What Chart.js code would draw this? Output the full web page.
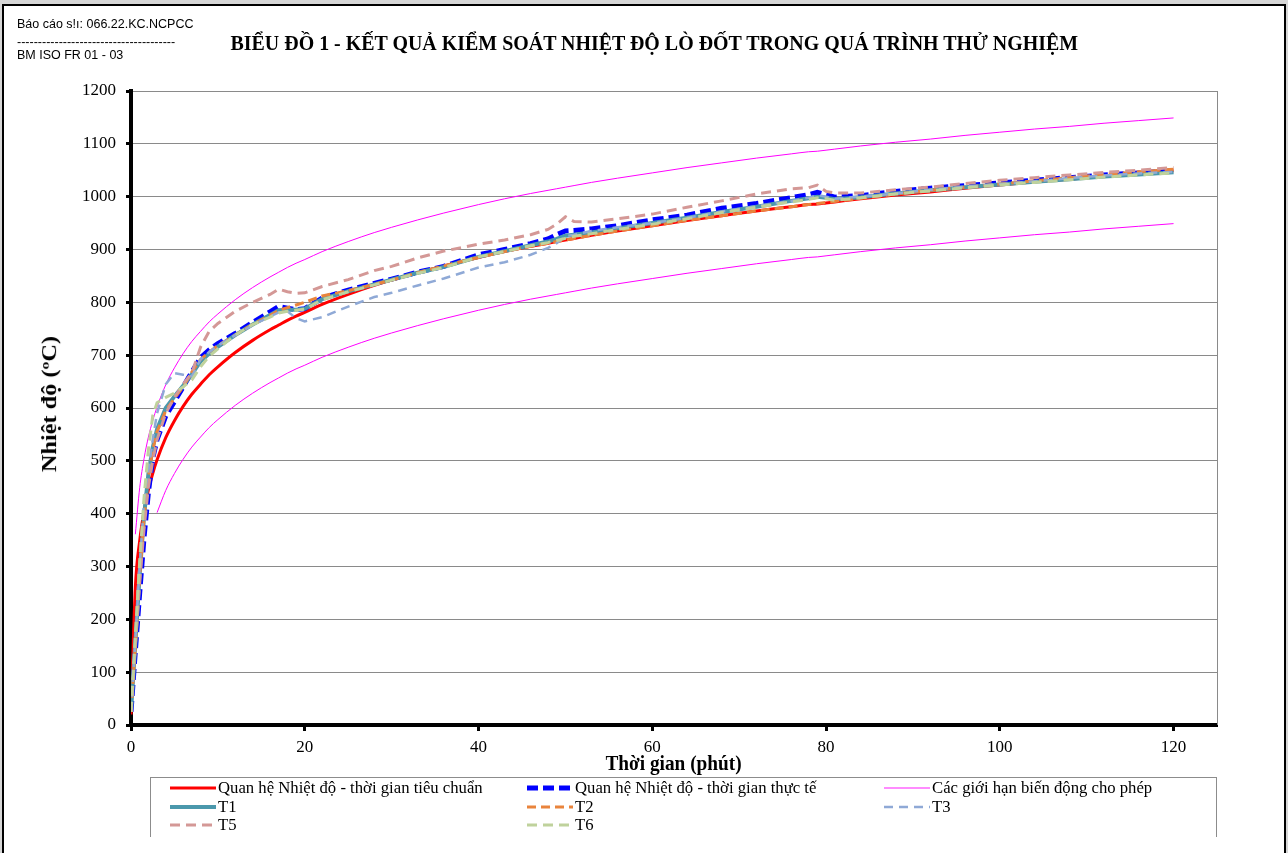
<!DOCTYPE html>
<html lang="vi">
<head>
<meta charset="utf-8">
<title>Biểu đồ 1 - Kết quả kiểm soát nhiệt độ lò đốt</title>
<script src="https://cdn.jsdelivr.net/npm/chart.js@4.4.1/dist/chart.umd.min.js"></script>
<style>
  html, body { margin: 0; padding: 0; }
  body { position: relative; width: 1288px; height: 853px; overflow: hidden; background: #d6d6d6; }
  #khung { position: absolute; left: 2px; top: 4px; width: 1284px; height: 900px; box-sizing: border-box; border: 2px solid #000; background: #fff; }
  #bieuDo { position: absolute; left: 0; top: 0; }
  .chu { position: absolute; white-space: nowrap; color: #000; }
  .sans { font-family: 'Liberation Sans', Arial, sans-serif; font-size: 12.5px; line-height: 15px; left: 17px; }
  .dam { font-family: 'Liberation Serif', 'Times New Roman', serif; font-weight: bold; font-size: 20px; line-height: 24px; transform-origin: 50% 50%; }
  #tieuDe { font-size: 21px; }
  #chuGiai { position: absolute; left: 150px; top: 777px; width: 1067px; height: 60px; box-sizing: border-box; border: 1px solid #8c8c8c; border-bottom: none; }
  .muc { position: absolute; height: 18px; display: flex; align-items: center; font-family: 'Liberation Serif', 'Times New Roman', serif; font-size: 16px; white-space: nowrap; color: #000; }
  .muc svg { display: block; }
  .muc span { display: inline-block; transform-origin: 0 50%; margin-left: 2px; }
</style>
</head>
<body>
<div id="khung"></div>
<canvas id="bieuDo" width="1288" height="853"></canvas>
<div class="chu sans" style="top:17px">Báo cáo s!ı: 066.22.KC.NCPCC</div>
<div class="chu sans" style="top:35px">--------------------------------------</div>
<div class="chu sans" style="top:48px">BM ISO FR 01 - 03</div>
<div class="chu dam" id="tieuDe">BIỂU ĐỒ 1 - KẾT QUẢ KIỂM SOÁT NHIỆT ĐỘ LÒ ĐỐT TRONG QUÁ TRÌNH THỬ NGHIỆM</div>
<div class="chu dam" id="tenTrucY">Nhiệt độ (ºC)</div>
<div class="chu dam" id="tenTrucX">Thời gian (phút)</div>
<div id="chuGiai"></div>

<script>
// ---- Số liệu (phút, °C) ----
const thoiGian = [0, 0.5, 1, 1.5, 2, 2.5, 3, 4, 5, 6, 7, 8, 9, 10, 12, 14, 16, 17, 18, 19,
  20, 22, 25, 28, 30, 33, 36, 40, 43, 46, 48, 49, 50, 51, 53, 56, 60, 64, 68, 72,
  76, 78, 79, 80, 81, 84, 88, 92, 96, 100, 104, 108, 112, 116, 120];

const tieuChuan = [20, 261, 349, 404, 445, 476, 502, 544, 576, 603, 626, 645, 663, 678, 705, 728, 748, 757, 766, 774,
  781, 796, 815, 832, 842, 856, 869, 885, 896, 906, 912, 915, 918, 921, 927, 935, 945, 955, 964, 973,
  981, 985, 986, 988, 990, 996, 1003, 1009, 1016, 1022, 1028, 1033, 1039, 1044, 1049];

// giới hạn cho phép: tiêu chuẩn ± 100 °C
const gioiHanTren = [null, 361, 449, 504, 545, 576, 602, 644, 676, 703, 726, 745, 763, 778, 805, 828, 848, 857, 866, 874,
  881, 896, 915, 932, 942, 956, 969, 985, 996, 1006, 1012, 1015, 1018, 1021, 1027, 1035, 1045, 1055, 1064, 1073,
  1081, 1085, 1086, 1088, 1090, 1096, 1103, 1109, 1116, 1122, 1128, 1133, 1139, 1144, 1149];

const gioiHanDuoi = [null, null, null, null, null, null, 402, 444, 476, 503, 526, 545, 563, 578, 605, 628, 648, 657, 666, 674,
  681, 696, 715, 732, 742, 756, 769, 785, 796, 806, 812, 815, 818, 821, 827, 835, 845, 855, 864, 873,
  881, 885, 886, 888, 890, 896, 903, 909, 916, 922, 928, 933, 939, 944, 949];

const thucTe = [25, 140, 250, 355, 440, 505, 540, 585, 612, 640, 668, 695, 710, 722, 741, 762, 782, 792, 789, 786,
  788, 808, 823, 836, 844, 857, 868, 890, 900, 911, 920, 928, 935, 936, 939, 945, 956, 965, 978, 987,
  998, 1004, 1008, 1004, 999, 1002, 1010, 1016, 1021, 1026, 1031, 1036, 1041, 1045, 1049];

const T1 = [25, 155, 285, 395, 475, 525, 560, 600, 622, 642, 664, 688, 703, 716, 738, 758, 776, 785, 786, 786,
  788, 806, 821, 834, 843, 856, 867, 886, 897, 908, 915, 920, 926, 928, 932, 940, 950, 960, 971, 981,
  992, 997, 1000, 998, 995, 999, 1006, 1012, 1018, 1023, 1028, 1033, 1038, 1042, 1046];

const T2 = [25, 150, 280, 390, 470, 520, 555, 595, 618, 640, 668, 692, 706, 718, 738, 758, 775, 785, 790, 795,
  800, 812, 822, 834, 842, 856, 869, 885, 896, 906, 912, 915, 918, 921, 927, 935, 945, 955, 964, 973,
  981, 985, 987, 989, 991, 997, 1005, 1012, 1018, 1024, 1030, 1036, 1042, 1047, 1052];

const T3 = [25, 160, 300, 420, 480, 540, 590, 645, 666, 663, 660, 692, 706, 718, 738, 757, 773, 781, 783, 770,
  764, 772, 792, 810, 818, 832, 845, 866, 876, 890, 903, 912, 925, 928, 935, 942, 950, 960, 972, 982,
  992, 998, 1003, 1000, 996, 1000, 1006, 1013, 1019, 1024, 1029, 1035, 1040, 1044, 1047];

const T5 = [25, 150, 270, 370, 450, 500, 540, 590, 620, 645, 666, 715, 745, 760, 783, 800, 815, 825, 820, 817,
  818, 830, 843, 860, 868, 884, 897, 910, 918, 928, 938, 948, 962, 953, 952, 958, 967, 980, 992, 1005,
  1015, 1017, 1022, 1010, 1007, 1007, 1013, 1018, 1025, 1031, 1036, 1041, 1046, 1050, 1055];

const T6 = [25, 170, 310, 430, 520, 585, 610, 620, 628, 640, 653, 678, 698, 712, 738, 758, 772, 780, 783, 785,
  787, 805, 820, 833, 842, 855, 866, 886, 896, 907, 913, 917, 921, 925, 930, 938, 948, 958, 970, 980,
  990, 995, 998, 996, 993, 998, 1005, 1011, 1017, 1022, 1027, 1032, 1037, 1041, 1045];

const nhanTrucX = [0, 20, 40, 60, 80, 100, 120];
const nhanTrucY = [0, 100, 200, 300, 400, 500, 600, 700, 800, 900, 1000, 1100, 1200];

const tenChuoi = [
  'Quan hệ Nhiệt độ - thời gian tiêu chuẩn',
  'Quan hệ Nhiệt độ - thời gian thực tế',
  'Các giới hạn biến động cho phép',
  'T1', 'T2', 'T3', 'T5', 'T6'
];

// ---- Dựng các đường ----
const duongCong = (nhan, giaTri, mau, day, net, them = {}) => ({
  label: nhan,
  data: thoiGian.map((t, i) => ({ x: t, y: giaTri[i] })),
  borderColor: mau,
  backgroundColor: mau,
  borderWidth: day,
  borderDash: net,
  pointRadius: 0,
  fill: false,
  tension: 0,
  spanGaps: false,
  ...them
});

const tapDuLieu = [
  duongCong(tenChuoi[0], tieuChuan, '#FF0000', 3, [], { cubicInterpolationMode: 'monotone' }),
  duongCong(tenChuoi[1], thucTe, '#0000FF', 5, [11, 5]),
  duongCong(tenChuoi[2], gioiHanTren, '#FF00FF', 1, [], { cubicInterpolationMode: 'monotone' }),
  duongCong(tenChuoi[2], gioiHanDuoi, '#FF00FF', 1, [], { cubicInterpolationMode: 'monotone', anChuGiai: true }),
  duongCong(tenChuoi[3], T1, '#4B98AC', 4, []),
  duongCong(tenChuoi[4], T2, '#E9843C', 3, [9, 5]),
  duongCong(tenChuoi[5], T3, '#8FA9D6', 2.5, [9, 6]),
  duongCong(tenChuoi[6], T5, '#D49896', 3, [10, 6]),
  duongCong(tenChuoi[7], T6, '#BFD29C', 3, [10, 6])
];
// chuỗi sau vẽ đè lên chuỗi trước
tapDuLieu.forEach((d, i) => { d.order = tapDuLieu.length - i; });

// khung phải của vùng vẽ
const vienVungVe = {
  id: 'vienVungVe',
  beforeDatasetsDraw(chart) {
    const { ctx, chartArea: a } = chart;
    ctx.save();
    ctx.strokeStyle = '#8a8a8a';
    ctx.lineWidth = 1;
    ctx.beginPath();
    ctx.moveTo(a.right + 0.5, a.top);
    ctx.lineTo(a.right + 0.5, a.bottom);
    ctx.stroke();
    ctx.restore();
  }
};

const fontTruc = { family: "'Liberation Serif', 'Times New Roman', serif", size: 17 };

const bieuDo = new Chart(document.getElementById('bieuDo'), {
  type: 'line',
  data: { datasets: tapDuLieu },
  options: {
    responsive: false,
    animation: false,
    devicePixelRatio: 1,
    layout: { padding: { left: 0, top: 91, right: 71, bottom: 0 } },
    plugins: {
      legend: { display: false },
      title: { display: false },
      tooltip: { enabled: false }
    },
    scales: {
      x: {
        type: 'linear',
        min: 0,
        max: 125,
        afterBuildTicks: s => { s.ticks = nhanTrucX.map(v => ({ value: v })); },
        ticks: { color: '#000', font: fontTruc, padding: 6, maxRotation: 0, callback: v => String(v) },
        grid: { drawOnChartArea: false, tickLength: 6, tickColor: '#000', tickWidth: 3 },
        border: { color: '#000', width: 4 },
        afterFit: s => { s.height = 128; }
      },
      y: {
        min: 0,
        max: 1200,
        afterBuildTicks: s => { s.ticks = nhanTrucY.map(v => ({ value: v })); },
        ticks: { color: '#000', font: fontTruc, padding: 10, callback: v => String(v) },
        grid: { color: '#8a8a8a', lineWidth: 1, tickLength: 5, tickColor: '#000', tickWidth: 3 },
        border: { color: '#000', width: 4 },
        afterFit: s => { s.width = 131; }
      }
    }
  },
  plugins: [vienVungVe]
});

// ---- Chữ: tiêu đề, tên trục ----
function datChu(id, cx, cy, dai, xoay) {
  const el = document.getElementById(id);
  const w = el.offsetWidth, h = el.offsetHeight;
  el.style.left = (cx - w / 2) + 'px';
  el.style.top = (cy - h / 2) + 'px';
  el.style.transform = (xoay ? 'rotate(-90deg) ' : '') + `scaleX(${dai / w})`;
}
datChu('tieuDe', 654, 43, 848);
datChu('tenTrucY', 49, 404, 136, true);
datChu('tenTrucX', 673, 763, 136);

// ---- Chú giải 3 cột ----
const chuGiai = document.getElementById('chuGiai');
const cotX = [19, 376, 733];
const hangY = [1, 19.5, 38];
const nhanHien = bieuDo.data.datasets.filter(d => !d.anChuGiai);
const cacNhan = [];
nhanHien.forEach((d, i) => {
  const muc = document.createElement('div');
  muc.className = 'muc';
  muc.style.left = cotX[i % 3] + 'px';
  muc.style.top = hangY[Math.floor(i / 3)] + 'px';
  const net = (d.borderDash || []).join(' ');
  const day = d.borderWidth < 2 ? 2 : d.borderWidth;
  muc.innerHTML = `<svg width="46" height="10"><line x1="0" y1="5" x2="46" y2="5" stroke="${d.borderColor}" stroke-width="${day}" ${net ? `stroke-dasharray="${net}"` : ''} opacity="${d.borderWidth < 2 ? 0.45 : 1}"/></svg><span>${d.label}</span>`;
  chuGiai.appendChild(muc);
  cacNhan.push(muc.querySelector('span'));
});
const heSo = 265 / cacNhan[0].offsetWidth;
cacNhan.forEach(s => { s.style.transform = `scaleX(${heSo})`; });
</script>
</body>
</html>
